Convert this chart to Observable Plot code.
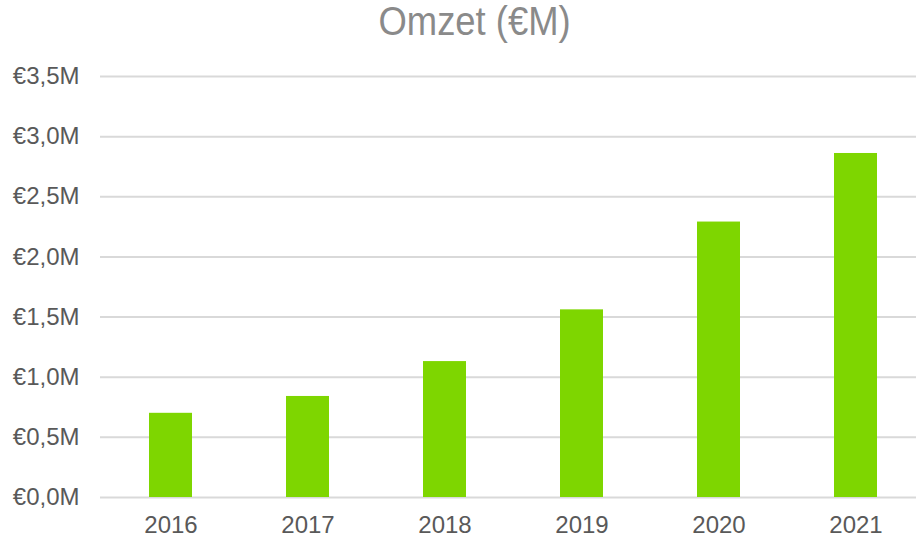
<!DOCTYPE html>
<html>
<head>
<meta charset="utf-8">
<script src="https://cdn.jsdelivr.net/npm/d3@7"></script>
<script src="https://cdn.jsdelivr.net/npm/@observablehq/plot@0.6"></script>
<style>
  html, body { margin: 0; padding: 0; background: #fff; overflow: hidden; }
  #title { height: 60px; width: 916px; box-sizing: border-box; padding-left: 34px; text-align: center; font-family: "Liberation Sans", Arial, sans-serif; font-size: 40px; color: #8a8a8a; line-height: 42px; }
  #title span { display: inline-block; transform: scaleX(0.91); transform-origin: center; }
  #chart svg { display: block; }
</style>
</head>
<body>
<div id="title"><span>Omzet (€M)</span></div>
<div id="chart"></div>
<script>
const years = ["2016", "2017", "2018", "2019", "2020", "2021"];
const revenue = [0.70, 0.84, 1.13, 1.56, 2.29, 2.86];
const yTicks = [0, 0.5, 1, 1.5, 2, 2.5, 3, 3.5];

const data = years.map((y, i) => ({year: y, value: revenue[i]}));
const fmt = d => "€" + d3.format(".1f")(d).replace(".", ",") + "M";

const chart = Plot.plot({
  width: 916,
  height: 478,
  marginTop: 16,
  marginBottom: 41,
  marginLeft: 100,
  marginRight: 0,
  style: {fontFamily: "'Liberation Sans', Arial, sans-serif", fontSize: "24px", color: "#595959", background: "#fff"},
  x: {domain: years, range: [100, 926], paddingInner: 0.6875, paddingOuter: 0.34375, label: null},
  y: {domain: [0, 3.5], label: null},
  marks: [
    Plot.gridY(yTicks, {stroke: "#d9d9d9", strokeOpacity: 1, strokeWidth: 2}),
    Plot.barY(data, {x: "year", y: "value", fill: "#7ed600"}),
    Plot.axisY(yTicks, {tickSize: 0, tickPadding: 21, tickFormat: fmt, fontSize: 24, fill: "#595959", label: null}),
    Plot.axisX({tickSize: 0, tickPadding: 18, fontSize: 24, fill: "#595959", label: null})
  ]
});
document.getElementById("chart").appendChild(chart);
</script>
</body>
</html>
